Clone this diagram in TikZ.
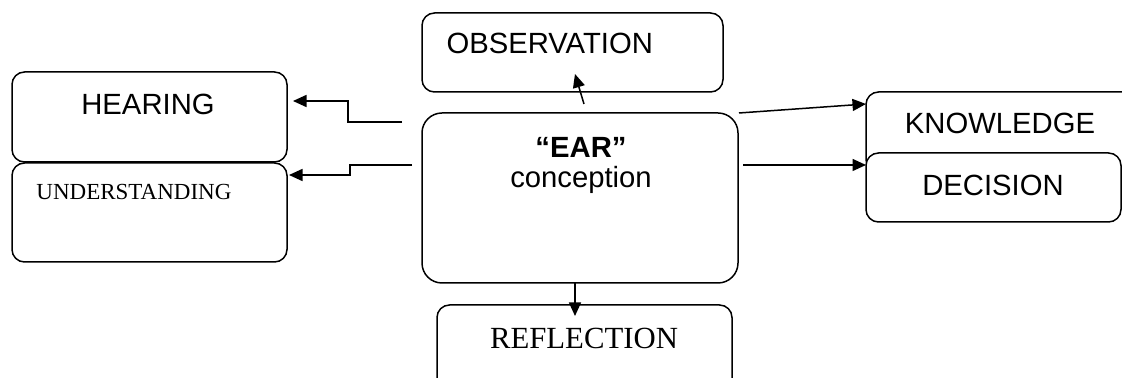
\documentclass[tikz,border=0pt]{standalone}
\usepackage{fontspec}
\setmainfont{Liberation Serif}
\setsansfont{Liberation Sans}
\usetikzlibrary{arrows.meta,calc,positioning}
\tikzset{
	box/.style={
			draw,
			line width=.6pt,
			rounded corners=5pt,
			fill=white,
			inner sep=0pt,
			outer sep=0pt,
			anchor=north west
		}
}

\begin{document}
\begin{tikzpicture}[x=.4pt,y=-.4pt]
			\tikzset{
				txt/.style={font=\fontsize{11.7}{14}\selectfont\sffamily, inner sep=0pt},
				serif/.style={font=\fontsize{#1}{14}\selectfont\rmfamily, inner sep=0pt},
				arr/.style={line width=.6pt, -{Triangle[length=5.4pt,width=4.8pt]}}
			}
			\useasboundingbox (0,0) rectangle (1122,378);
			\clip (0,0) rectangle (1122,378);
			\node[box, minimum width=120.4pt, minimum height=31.6pt] (obs) at (422,13) {};
			\node[box, minimum width=110pt, minimum height=36pt] (hear) at (12,72) {};
			\node[box, minimum width=110pt, minimum height=39.6pt] (und) at (12,163) {};
			\node[box, minimum width=126.4pt, minimum height=68pt, rounded corners=8pt] (ear) at (422,113) {};
			\node[box, minimum width=118pt, minimum height=40pt] (refl) at (437,305) {};
			\node[box, minimum width=112pt, minimum height=32pt] (know) at (866,92) {};
			\node[box, minimum width=102pt, minimum height=27.6pt] (dec) at (866,153) {};
			\node[txt, anchor=west] (obs-t) at (446,43) {OBSERVATION};
			\node[txt] (hear-t) at (148,104) {HEARING};
			\node[serif=9.2, anchor=west] (und-t) at (36,192) {UNDERSTANDING};
			\node[txt, anchor=base] (ear-t) at (581,158) {\bfseries ``EAR''};
			\node[txt, anchor=base] (ear-c) at (581,188) {conception};
			\node[serif=12.3] (refl-t) at (584,338) {REFLECTION};
			\node[txt] (know-t) at (1000,123) {KNOWLEDGE};
			\node[txt] (dec-t) at (993,185) {DECISION};
			\coordinate (hs) at (402,122);
			\coordinate (he) at (293,101);
			\coordinate (us) at (412,165);
			\coordinate (ue) at (289,175);
			\coordinate (os) at (584,104);
			\coordinate (oe) at (575,74);
			\coordinate (ks) at (739,113);
			\coordinate (ke) at (866,104);
			\coordinate (ds) at (743,165);
			\coordinate (de) at (866,165);
			\coordinate (rs) at (575,283);
			\coordinate (re) at (575,316);
			\draw[arr] (hs) -- (348,122) -- (348,101) -- (he);
			\draw[arr] (us) -- (350,165) -- (350,175) -- (ue);
			\draw[arr] (os) -- (oe);
			\draw[arr] (ks) -- (ke);
			\draw[arr] (ds) -- (de);
			\draw[arr] (rs) -- (re);
		\end{tikzpicture}
\end{document}
